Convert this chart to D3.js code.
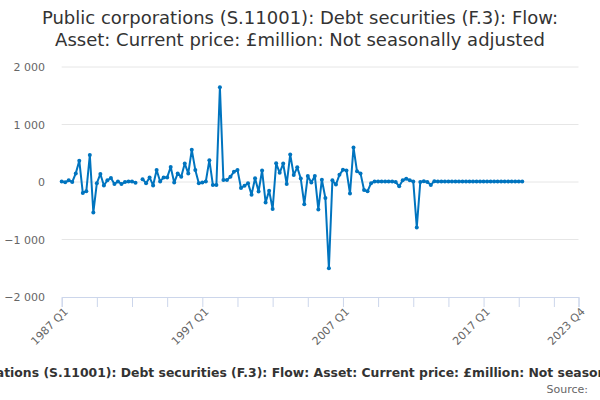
<!DOCTYPE html>
<html>
<head>
<meta charset="utf-8">
<script src="https://cdn.jsdelivr.net/npm/d3@7"></script>
<style>
  body { margin: 0; background: #fff; }
  svg { font-family: "DejaVu Sans", sans-serif; }
</style>
</head>
<body>
<div id="chart"></div>
<script>
// quarterly series, 1987 Q1 onwards (null = no value)
var firstYear = 1987;
var lastQuarterLabel = "2023 Q4";
var values = [
  10, -5, 30, 0, 150, 370, -190, -160, 470, -530,
  -20, 140, -60, 30, 70, -35, 10, -35, 0, 10,
  10, -15, null, 50, -20, 80, -60, 210, 10, 80,
  80, 260, -10, 150, 90, 320, 150, 560, 210, -20,
  -10, 10, 380, -50, -50, 1650, 35, 35, 90, 180,
  210, -105, -65, -20, -220, 65, -165, 200, -355, -150,
  -470, 325, 160, 320, -35, 480, 120, 255, 60, -385,
  105, -10, 105, -480, 40, -278, -1500, 30, -45, 125,
  212, 202, -202, 600, 185, 150, -140, -160, -20, 10,
  10, 10, 10, 10, 10, 0, -75, 30, 58, 30,
  10, -790, 0, 15, 0, -50, 15, 10, 10, 10,
  10, 10, 10, 10, 10, 10, 10, 10, 10, 10,
  10, 10, 10, 10, 10, 10, 10, 10, 10, 10,
  10, 10
];
var xTickLabels = ["1987 Q1", "1997 Q1", "2007 Q1", "2017 Q1", "2023 Q4"];
var yTicks = [-2000, -1000, 0, 1000, 2000];
var titleLines = [
  "Public corporations (S.11001): Debt securities (F.3): Flow:",
  "Asset: Current price: £million: Not seasonally adjusted"
];
var axisTitle = "Public corporations (S.11001): Debt securities (F.3): Flow: Asset: Current price: £million: Not seasonally adjusted";

var width = 600, height = 400;
var blue = "#0074bf";

// quarter labels -> index
function quarterIndex(label){
  var p = label.split(" Q");
  return (+p[0] - firstYear) * 4 + (+p[1] - 1);
}
var lastIndex = quarterIndex(lastQuarterLabel);

var svg = d3.select("#chart").append("svg")
  .attr("width", width)
  .attr("height", height);

var x = d3.scaleLinear().domain([0, lastIndex]).range([61.7, 578.5]);
var y = d3.scaleLinear().domain([-2000, 2000]).range([297, 67]);

// title
svg.append("text")
  .attr("x", 300)
  .attr("text-anchor", "middle")
  .attr("fill", "#333")
  .style("font-size", "18px")
  .selectAll("tspan")
  .data(titleLines)
  .enter().append("tspan")
  .attr("x", 300)
  .attr("y", function(d, i){ return 24 + i * 22; })
  .text(function(d){ return d; });

// grid + y labels
svg.append("g").selectAll("line")
  .data(yTicks.filter(function(d){ return d > -2000; }))
  .enter().append("line")
  .attr("x1", x(0)).attr("x2", x(lastIndex))
  .attr("y1", function(d){ return y(d); })
  .attr("y2", function(d){ return y(d); })
  .attr("stroke", "#e6e6e6");

svg.append("g").selectAll("text")
  .data(yTicks)
  .enter().append("text")
  .attr("x", 45)
  .attr("y", function(d){ return y(d) + 4; })
  .attr("text-anchor", "end")
  .attr("fill", "#666")
  .style("font-size", "11px")
  .text(function(d){ return d3.format(",")(d).replace(",", " "); });

// x axis
var tickIdx = d3.range(0, lastIndex, 10).concat([lastIndex]);
var xAxis = d3.axisBottom(x)
  .tickValues(tickIdx)
  .tickSize(10)
  .tickFormat(function(d){
    var lbl = xTickLabels.filter(function(l){ return quarterIndex(l) === d; });
    return lbl.length ? lbl[0] : "";
  });

var gx = svg.append("g")
  .attr("transform", "translate(0," + y(-2000) + ")")
  .call(xAxis);
gx.select(".domain").attr("stroke", "#ccd6eb");
gx.selectAll(".tick line").attr("stroke", "#ccd6eb");
gx.selectAll(".tick text")
  .attr("fill", "#666")
  .style("font-size", "11px")
  .style("font-family", "DejaVu Sans, sans-serif")
  .attr("text-anchor", "end")
  .attr("transform", "rotate(-45)")
  .attr("dx", "-0.2em")
  .attr("dy", "0.5em")
  .attr("y", 10)
  .attr("x", -4);

// line + markers
var pts = values.map(function(v, i){ return {i: i, v: v}; });
var line = d3.line()
  .defined(function(d){ return d.v !== null; })
  .x(function(d){ return x(d.i); })
  .y(function(d){ return y(d.v); });

svg.append("path")
  .datum(pts)
  .attr("d", line)
  .attr("fill", "none")
  .attr("stroke", blue)
  .attr("stroke-width", 2)
  .attr("stroke-linejoin", "round");

svg.append("g").selectAll("circle")
  .data(pts.filter(function(d){ return d.v !== null; }))
  .enter().append("circle")
  .attr("cx", function(d){ return x(d.i); })
  .attr("cy", function(d){ return y(d.v); })
  .attr("r", 2)
  .attr("fill", blue);

// axis title (wider than the frame, as in the original)
svg.append("text")
  .attr("x", 300)
  .attr("y", 377)
  .attr("text-anchor", "middle")
  .attr("fill", "#333")
  .style("font-size", "12.4px")
  .style("font-weight", "bold")
  .text(axisTitle);

svg.append("text")
  .attr("x", 588)
  .attr("y", 393)
  .attr("text-anchor", "end")
  .attr("fill", "#666")
  .style("font-size", "11px")
  .text("Source:");
</script>
</body>
</html>
